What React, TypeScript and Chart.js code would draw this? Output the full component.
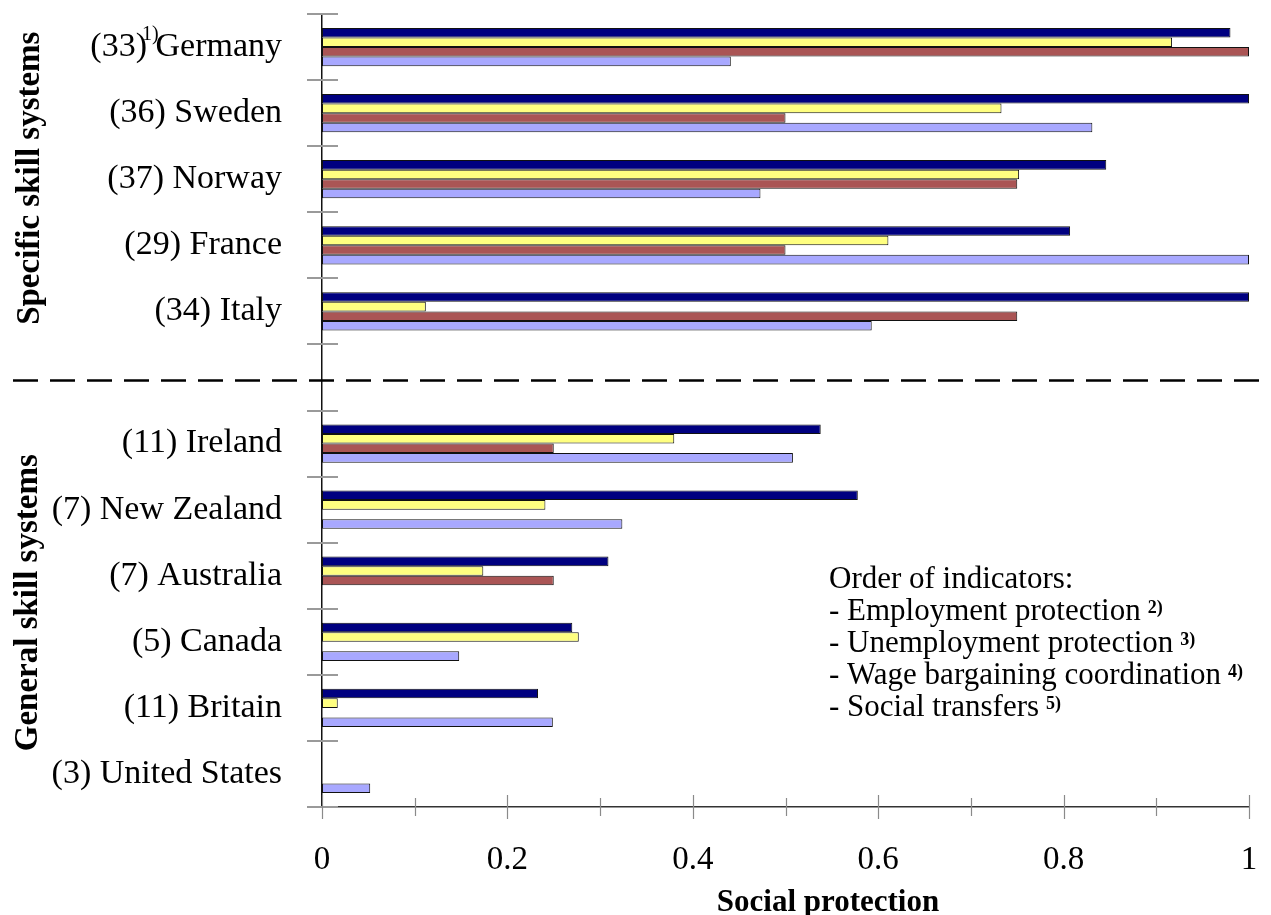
import { useEffect, useRef } from 'react';
import { Chart, registerables } from 'chart.js';

Chart.register(...registerables);

// ---- data ----
const countries = [
  '(33) Germany',
  '(36) Sweden',
  '(37) Norway',
  '(29) France',
  '(34) Italy',
  '',
  '(11) Ireland',
  '(7) New Zealand',
  '(7) Australia',
  '(5) Canada',
  '(11) Britain',
  '(3) United States',
];
const employmentProtection = [0.98, 1.0, 0.846, 0.807, 1.0, null, 0.538, 0.578, 0.309, 0.27, 0.233, 0];
const unemploymentProtection = [0.917, 0.733, 0.752, 0.611, 0.112, null, 0.38, 0.241, 0.174, 0.277, 0.017, 0];
const wageCoordination = [1.0, 0.5, 0.75, 0.5, 0.75, null, 0.25, 0, 0.25, 0, 0, 0];
const socialTransfers = [0.441, 0.831, 0.473, 1.0, 0.593, null, 0.508, 0.324, 0, 0.148, 0.249, 0.052];

const seriesNames = [
  'Employment protection',
  'Unemployment protection',
  'Wage bargaining coordination',
  'Social transfers',
];
const seriesColors = ['#000080', '#FFFF80', '#AA5555', '#A8A8FF'];
const xTickLabels = ['0', '0.2', '0.4', '0.6', '0.8', '1'];
const groupTitles = ['Specific skill systems', 'General skill systems'];
const legendLines = [
  'Order of indicators:',
  '- Employment protection',
  '- Unemployment protection',
  '- Wage bargaining coordination',
  '- Social transfers',
];
const legendNotes = ['', '2)', '3)', '4)', '5)'];
const germanyNote = '1)';
const xTitle = 'Social protection';

const SERIF = "'Liberation Serif', 'Times New Roman', serif";

const zeroPad = (s: any) => {
  s.paddingTop = 0;
  s.paddingBottom = 0;
  s.paddingLeft = 0;
  s.paddingRight = 0;
};

const decorPlugin = {
  id: 'decor',
  afterDraw(chart: any) {
    const ctx = chart.ctx as CanvasRenderingContext2D;
    const xs = chart.scales.x;
    const ys = chart.scales.y;
    const axisX = xs.getPixelForValue(0);
    const axisY = ys.bottom;
    ctx.save();

    // y tick marks at category boundaries
    ctx.strokeStyle = '#9a9a9a';
    ctx.lineWidth = 2;
    for (let i = 0; i <= countries.length; i++) {
      const y = Math.round(ys.getPixelForValue(i - 0.5));
      ctx.beginPath();
      ctx.moveTo(axisX - 15, y);
      ctx.lineTo(axisX + 16, y);
      ctx.stroke();
    }
    // x tick marks
    ctx.lineWidth = 1.2;
    ctx.strokeStyle = '#8a8a8a';
    for (let k = 0; k <= 10; k++) {
      const x = Math.round(xs.getPixelForValue(k / 10)) + 0.5;
      const h = k % 2 === 0 ? 12 : 9;
      ctx.beginPath();
      ctx.moveTo(x, axisY - h);
      ctx.lineTo(x, axisY + h);
      ctx.stroke();
    }

    // dashed divider between the groups
    const dy = ys.getPixelForValue(5) + 3;
    ctx.strokeStyle = '#000';
    ctx.lineWidth = 2.5;
    ctx.setLineDash([25, 12]);
    ctx.beginPath();
    ctx.moveTo(13, dy);
    ctx.lineTo(chart.width, dy);
    ctx.stroke();
    ctx.setLineDash([]);

    // group titles (rotated)
    ctx.fillStyle = '#000';
    ctx.font = `bold 33px ${SERIF}`;
    ctx.textAlign = 'center';
    ctx.textBaseline = 'middle';
    const groupCenters = [ys.getPixelForValue(2) - 1, ys.getPixelForValue(8.5) - 6];
    const groupX = [30, 28];
    groupTitles.forEach((t, i) => {
      ctx.save();
      ctx.translate(groupX[i], groupCenters[i]);
      ctx.rotate(-Math.PI / 2);
      ctx.fillText(t, 0, 0);
      ctx.restore();
    });

    // footnote marker on Germany
    ctx.font = `20px ${SERIF}`;
    ctx.textAlign = 'left';
    ctx.textBaseline = 'alphabetic';
    ctx.fillText(germanyNote, 142, 40);

    // legend text block
    const lx = 829;
    const baseY = 588;
    const lineGap = 32;
    legendLines.forEach((t, i) => {
      const by = baseY + i * lineGap;
      ctx.font = `31px ${SERIF}`;
      ctx.fillText(t, lx, by);
      if (legendNotes[i]) {
        const w = ctx.measureText(t).width;
        ctx.font = `bold 18px ${SERIF}`;
        ctx.fillText(legendNotes[i], lx + w + 7, by - 7);
      }
    });

    // x-axis title
    ctx.font = `bold 31px ${SERIF}`;
    ctx.textAlign = 'center';
    ctx.fillText(xTitle, 828, 911);

    ctx.restore();
  },
};

export default function App() {
  const canvasRef = useRef<HTMLCanvasElement | null>(null);

  useEffect(() => {
    const canvas = canvasRef.current;
    if (!canvas) return;
    const seriesData = [employmentProtection, unemploymentProtection, wageCoordination, socialTransfers];
    const chart = new Chart(canvas, {
      type: 'bar',
      data: {
        labels: countries,
        datasets: seriesNames.map((name, i) => ({
          label: name,
          data: seriesData[i],
          backgroundColor: seriesColors[i],
          borderColor: '#111',
          borderWidth: 1,
          borderSkipped: false,
          barPercentage: 1,
          categoryPercentage: 0.58,
        })),
      },
      options: {
        indexAxis: 'y',
        responsive: false,
        animation: false,
        devicePixelRatio: 1,
        layout: { autoPadding: false, padding: { top: 14, right: 22, bottom: 0, left: 0 } },
        plugins: {
          legend: { display: false },
          tooltip: { enabled: false },
        },
        scales: {
          y: {
            type: 'category',
            position: 'left',
            offset: true,
            grid: { display: false, drawTicks: false },
            border: { display: true, color: '#111', width: 1.5 },
            ticks: {
              autoSkip: false,
              color: '#000',
              padding: 40,
              font: { family: SERIF, size: 34 },
            },
            afterFit: (s: any) => {
              s.width = 322;
              zeroPad(s);
            },
          },
          x: {
            type: 'linear',
            position: 'bottom',
            min: 0,
            max: 1,
            grid: { display: false, drawTicks: false },
            border: { display: true, color: '#333', width: 1.5 },
            ticks: {
              stepSize: 0.1,
              autoSkip: false,
              maxRotation: 0,
              color: '#000',
              padding: 34,
              font: { family: SERIF, size: 33 },
              callback: (v: any) => {
                const k = Math.round(Number(v) * 10);
                return k % 2 === 0 ? xTickLabels[k / 2] : '';
              },
            },
            afterFit: (s: any) => {
              s.height = 108;
              zeroPad(s);
            },
          },
        },
      },
      plugins: [decorPlugin],
    } as any);
    return () => chart.destroy();
  }, []);

  return (
    <div style={{ position: 'fixed', left: 0, top: 0, width: 1271, height: 915, background: '#fff' }}>
      <canvas ref={canvasRef} width={1271} height={915} style={{ width: 1271, height: 915, display: 'block' }} />
    </div>
  );
}
